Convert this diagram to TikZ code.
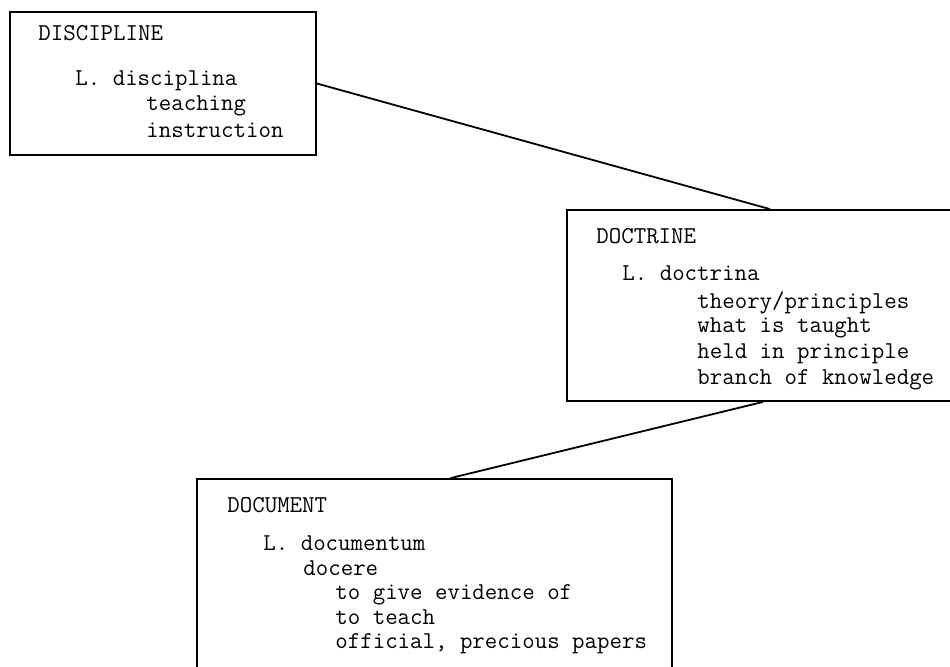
\documentclass[tikz,border=0pt]{standalone}
\usepackage{fontspec}
\usepackage{tikz}

\begin{document}
\begin{tikzpicture}[x=0.5pt,y=-0.5pt]
\tikzstyle{card}=[draw,rectangle,line width=0.9pt,inner sep=0pt]
\tikzstyle{entry}=[anchor=base west,inner sep=0pt,font=\ttfamily\fontsize{12.1}{14}\selectfont]
\tikzstyle{link}=[line width=0.9pt]
\useasboundingbox (0,0) rectangle (950,666);
\clip (0,0) rectangle (950,666);
% boxes
\node[card,minimum width=153pt,minimum height=71.5pt] (disc) at (163,83.5) {};
\node[card,minimum width=203pt,minimum height=95.5pt] (doct) at (770,305.5) {};
\node[card,minimum width=237.5pt,minimum height=130.5pt] (docu) at (434.5,609.5) {};
% discipline
\node[entry] (disc0) at (38,40) {DISCIPLINE};
\node[entry] (disc1) at (75,85) {L. disciplina};
\node[entry] (disc2) at (146,110) {teaching};
\node[entry] (disc3) at (146,137) {instruction};
% doctrine
\node[entry] (doct0) at (596,243) {DOCTRINE};
\node[entry] (doct1) at (622,280) {L. doctrina};
\node[entry] (doct2) at (697,308) {theory/principles};
\node[entry] (doct3) at (697,332) {what is taught};
\node[entry] (doct4) at (697,358) {held in principle};
\node[entry] (doct5) at (697,384) {branch of knowledge};
% document
\node[entry] (docu0) at (227,512) {DOCUMENT};
\node[entry] (docu1) at (263,550) {L. documentum};
\node[entry] (docu2) at (303,575) {docere};
\node[entry] (docu3) at (335,599) {to give evidence of};
\node[entry] (docu4) at (335,624) {to teach};
\node[entry] (docu5) at (335,648) {official, precious papers};
% links
\draw[link] (disc.east) -- (doct.north);
\draw[link] ([xshift=-3.5pt]doct.south) -- ([xshift=8pt]docu.north);
\end{tikzpicture}
\end{document}
